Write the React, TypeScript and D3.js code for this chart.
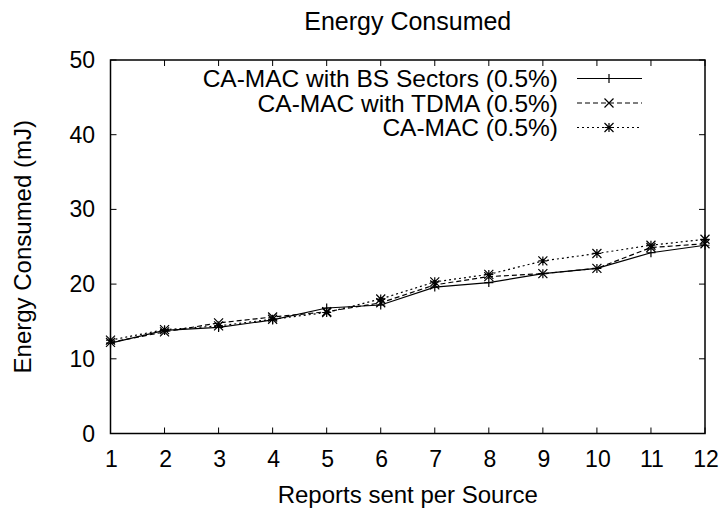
import React, { useEffect, useRef } from 'react';
import * as d3 from 'd3';

// reports sent per source
const reports = [1, 2, 3, 4, 5, 6, 7, 8, 9, 10, 11, 12];
const yTicks = [0, 10, 20, 30, 40, 50];

// energy consumed (mJ)
const bsSectors = [12.1, 13.8, 14.2, 15.2, 16.8, 17.2, 19.6, 20.2, 21.4, 22.1, 24.2, 25.2];
const tdma = [12.2, 13.6, 14.8, 15.6, 16.3, 17.5, 19.9, 21.0, 21.4, 22.1, 24.9, 25.4];
const caMac = [12.5, 13.9, 14.4, 15.3, 16.2, 18.0, 20.3, 21.3, 23.1, 24.1, 25.2, 26.0];

const seriesNames = ['CA-MAC with BS Sectors (0.5%)', 'CA-MAC with TDMA (0.5%)', 'CA-MAC (0.5%)'];
const seriesValues = [bsSectors, tdma, caMac];
const dashes = ['none', '5,3', '2,3'];
const markers = ['plus', 'cross', 'star'];

const FONT = 'Liberation Sans, Arial, sans-serif';

function markerPath(type: string, cx: number, cy: number) {
    const s = 4.5;
    const plus = `M${cx - s},${cy}L${cx + s},${cy}M${cx},${cy - s}L${cx},${cy + s}`;
    const cross = `M${cx - s},${cy - s}L${cx + s},${cy + s}M${cx - s},${cy + s}L${cx + s},${cy - s}`;
    if (type === 'plus') return plus;
    if (type === 'cross') return cross;
    return plus + cross;
}

export default function App() {
    const ref = useRef<SVGSVGElement>(null);

    useEffect(() => {
        const width = 727,
            height = 511;
        const left = 110.5,
            right = 705,
            top = 60,
            bottom = 433.5;

        const svg = d3.select(ref.current);
        svg.selectAll('*').remove();
        svg.attr('width', width).attr('height', height);

        const x = d3.scaleLinear().domain([1, 12]).range([left, right]);
        const y = d3.scaleLinear().domain([0, 50]).range([bottom, top]);

        // title and axis labels
        svg.append('text')
            .attr('x', (left + right) / 2)
            .attr('y', 30)
            .attr('text-anchor', 'middle')
            .style('font', `25px ${FONT}`)
            .text('Energy Consumed');

        svg.append('text')
            .attr('x', (left + right) / 2)
            .attr('y', 503)
            .attr('text-anchor', 'middle')
            .style('font', `24px ${FONT}`)
            .text('Reports sent per Source');

        svg.append('text')
            .attr('transform', `translate(31,${(top + bottom) / 2}) rotate(-90)`)
            .attr('text-anchor', 'middle')
            .style('font', `24px ${FONT}`)
            .text('Energy Consumed (mJ)');

        // ticks (inward, mirrored)
        const tick = 6;
        const g = svg.append('g').attr('stroke', '#000').attr('stroke-width', 1);
        yTicks.forEach(v => {
            g.append('line').attr('x1', left).attr('x2', left + tick).attr('y1', y(v)).attr('y2', y(v));
            g.append('line').attr('x1', right).attr('x2', right - tick).attr('y1', y(v)).attr('y2', y(v));
            svg.append('text')
                .attr('x', 95)
                .attr('y', y(v) + 8)
                .attr('text-anchor', 'end')
                .style('font', `23px ${FONT}`)
                .text(v);
        });
        reports.forEach(v => {
            g.append('line').attr('x1', x(v)).attr('x2', x(v)).attr('y1', bottom).attr('y2', bottom - tick);
            g.append('line').attr('x1', x(v)).attr('x2', x(v)).attr('y1', top).attr('y2', top + tick);
            svg.append('text')
                .attr('x', x(v) + 1)
                .attr('y', 467)
                .attr('text-anchor', 'middle')
                .style('font', `23px ${FONT}`)
                .text(v);
        });

        // frame
        svg.append('rect')
            .attr('x', left)
            .attr('y', top)
            .attr('width', right - left)
            .attr('height', bottom - top)
            .attr('fill', 'none')
            .attr('stroke', '#000')
            .attr('stroke-width', 1.5);

        const line = d3.line<number>()
            .x((d, i) => x(reports[i]))
            .y(d => y(d));

        seriesValues.forEach((vals, k) => {
            svg.append('path')
                .attr('d', line(vals))
                .attr('fill', 'none')
                .attr('stroke', '#000')
                .attr('stroke-width', 1.2)
                .attr('stroke-dasharray', dashes[k]);
            svg.append('path')
                .attr('d', vals.map((v, i) => markerPath(markers[k], x(reports[i]), y(v))).join(''))
                .attr('fill', 'none')
                .attr('stroke', '#000')
                .attr('stroke-width', 1.2);
        });

        // legend
        const legY = [78.5, 103, 127.5];
        seriesNames.forEach((name, k) => {
            svg.append('text')
                .attr('x', 558)
                .attr('y', legY[k] + 8.5)
                .attr('text-anchor', 'end')
                .style('font', `24.5px ${FONT}`)
                .text(name);
            svg.append('line')
                .attr('x1', 577)
                .attr('x2', 642)
                .attr('y1', legY[k])
                .attr('y2', legY[k])
                .attr('stroke', '#000')
                .attr('stroke-width', 1.2)
                .attr('stroke-dasharray', dashes[k]);
            svg.append('path')
                .attr('d', markerPath(markers[k], 609, legY[k]))
                .attr('fill', 'none')
                .attr('stroke', '#000')
                .attr('stroke-width', 1.2);
        });
    }, []);

    return (
        <svg ref={ref} style={{ position: 'absolute', left: 0, top: 0, background: '#fff' }}></svg>
    );
}
